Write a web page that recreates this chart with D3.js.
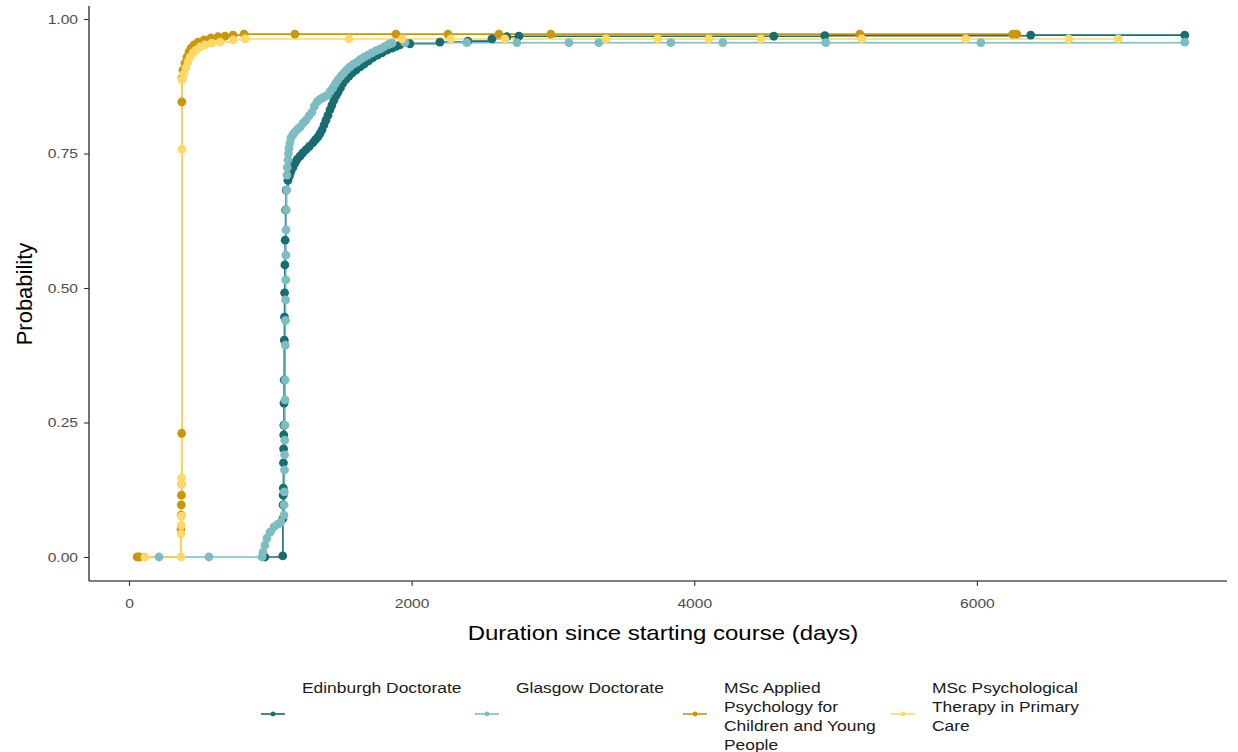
<!DOCTYPE html>
<html>
<head>
<meta charset="utf-8">
<script src="https://cdn.jsdelivr.net/npm/d3@7"></script>
<style>
  body { margin: 0; background: #fff; }
  svg { display: block; font-family: "Liberation Sans", Arial, sans-serif; }
</style>
</head>
<body>
<svg id="chart" width="1238" height="752"></svg>
<script>
// series names, in legend order
const seriesNames = ["Edinburgh Doctorate", "Glasgow Doctorate",
  "MSc Applied Psychology for Children and Young People", "MSc Psychological Therapy in Primary Care"];
const seriesColors = ["#196C6F", "#7CBCC3", "#C99709", "#FFD968"];
// legend labels as wrapped in the picture
const legendLines = [["Edinburgh Doctorate"], ["Glasgow Doctorate"],
  ["MSc Applied", "Psychology for", "Children and Young", "People"],
  ["MSc Psychological", "Therapy in Primary", "Care"]];

// Edinburgh Doctorate
const edDays = [962, 1088, 1089, 1090, 1091, 1092, 1093, 1094, 1095, 1096, 1097, 1098, 1099, 1100, 1101, 1103, 1105, 1108, 1112,
  1125, 1135, 1146, 1160, 1174, 1190, 1210, 1230, 1252, 1275, 1302, 1320, 1337, 1352, 1366, 1380, 1394, 1408, 1422, 1436,
  1450, 1465, 1479, 1496, 1514, 1535, 1557, 1580, 1606, 1635, 1663, 1695, 1726, 1758, 1790, 1825, 1861, 1890, 1917, 1988,
  2200, 2398, 2568, 2674, 2759, 4563, 4924, 6381, 7471];
const edProb = [0, 0.002, 0.071, 0.097, 0.115, 0.128, 0.175, 0.201, 0.227, 0.245, 0.286, 0.329, 0.403, 0.446, 0.491, 0.543, 0.589, 0.645, 0.682,
  0.700, 0.708, 0.716, 0.724, 0.732, 0.739, 0.745, 0.751, 0.757, 0.763, 0.770, 0.776, 0.781, 0.787, 0.794, 0.803, 0.812, 0.821, 0.831, 0.840,
  0.849, 0.857, 0.864, 0.872, 0.881, 0.888, 0.894, 0.900, 0.905, 0.911, 0.916, 0.922, 0.928, 0.933, 0.937, 0.942, 0.946, 0.949, 0.952, 0.954,
  0.957, 0.959, 0.963, 0.967, 0.968, 0.968, 0.969, 0.970, 0.970];

// Glasgow Doctorate
const glDays = [212, 566, 941, 948, 962, 976, 998, 1026, 1054, 1075, 1097, 1098, 1099, 1100, 1101, 1102, 1103, 1104, 1105, 1106,
  1107, 1108, 1109, 1110, 1111, 1113, 1116, 1118, 1120, 1125, 1128, 1132, 1139, 1146, 1160, 1174, 1192, 1210, 1230, 1252,
  1274, 1295, 1312, 1330, 1348, 1366, 1387, 1408, 1425, 1443, 1461, 1479, 1500, 1521, 1542, 1564, 1588, 1613, 1638, 1663,
  1690, 1719, 1748, 1776, 1804, 1832, 1846, 1861, 1953, 2391, 2745, 3113, 3325, 3834, 4202, 4931, 6028, 7471];
const glProb = [0, 0, 0, 0.009, 0.022, 0.035, 0.046, 0.056, 0.061, 0.065, 0.078, 0.097, 0.121, 0.162, 0.190, 0.217, 0.245, 0.292, 0.329, 0.394,
  0.440, 0.478, 0.515, 0.561, 0.608, 0.645, 0.682, 0.710, 0.724, 0.738, 0.750, 0.760, 0.770, 0.779, 0.785, 0.790, 0.795, 0.799, 0.806, 0.812,
  0.820, 0.827, 0.838, 0.846, 0.850, 0.853, 0.856, 0.859, 0.866, 0.872, 0.880, 0.887, 0.894, 0.900, 0.906, 0.911, 0.916, 0.920, 0.925, 0.929,
  0.933, 0.937, 0.941, 0.944, 0.948, 0.952, 0.954, 0.955, 0.956, 0.956, 0.956, 0.956, 0.956, 0.956, 0.956, 0.956, 0.956, 0.957];

// MSc Applied Psychology for Children and Young People
const apDays = [57, 75, 368, 369, 370, 371, 372, 373, 374, 375, 382, 396, 410, 425, 439, 460, 488, 531, 580, 630, 679, 736, 814,
  1174, 1889, 2257, 2618, 2985, 5171, 6254, 6282];
const apProb = [0, 0, 0.052, 0.078, 0.097, 0.115, 0.136, 0.230, 0.846, 0.890, 0.905, 0.918, 0.929, 0.939, 0.946, 0.952, 0.957, 0.961, 0.965, 0.967, 0.968, 0.970, 0.972,
  0.972, 0.972, 0.972, 0.972, 0.972, 0.972, 0.972, 0.972];

// MSc Psychological Therapy in Primary Care
const ptDays = [113, 368, 369, 370, 371, 372, 373, 374, 375, 389, 403, 417, 432, 453, 474, 502, 538, 587, 644, 736, 821,
  1556, 1931, 2278, 2660, 3375, 3742, 4103, 4471, 5186, 5921, 6650, 7000];
const ptProb = [0, 0, 0.043, 0.059, 0.076, 0.136, 0.147, 0.758, 0.887, 0.898, 0.909, 0.920, 0.929, 0.937, 0.942, 0.948, 0.952, 0.955, 0.957, 0.961, 0.963,
  0.963, 0.963, 0.963, 0.963, 0.963, 0.963, 0.963, 0.963, 0.963, 0.963, 0.963, 0.963];

const xTicks = [0, 2000, 4000, 6000];
const yTicks = [0, 0.25, 0.5, 0.75, 1];

const seriesDays = [edDays, glDays, apDays, ptDays];
const seriesProb = [edProb, glProb, apProb, ptProb];
const series = seriesNames.map((name, i) => ({
  name: name, color: seriesColors[i],
  values: seriesDays[i].map((d, j) => ({ day: d, p: seriesProb[i][j] }))
}));

const svg = d3.select("#chart");
const plotLeft = 89, plotRight = 1227, plotTop = 6, plotBottom = 581;
const sx = 1.2; // the picture's text is drawn a bit wide

const x = d3.scaleLinear().domain([-283, 7770]).range([plotLeft, plotRight]);
const y = d3.scaleLinear().domain([-0.0446, 1.0242]).range([plotBottom, plotTop]);

// axes
const xAxis = svg.append("g")
  .attr("transform", "translate(0," + plotBottom + ")")
  .call(d3.axisBottom(x).tickValues(xTicks).tickSize(5).tickPadding(13).tickFormat(d3.format("d")));
const yAxis = svg.append("g")
  .attr("transform", "translate(" + plotLeft + ",0)")
  .call(d3.axisLeft(y).tickValues(yTicks).tickSize(5).tickPadding(6).tickFormat(d3.format(".2f")));

[xAxis, yAxis].forEach(g => {
  g.select(".domain").attr("stroke", "#000").attr("stroke-width", 1.1);
  g.selectAll(".tick line").attr("stroke", "#333").attr("stroke-width", 1.1);
  g.selectAll(".tick text").attr("fill", "#4d4d4d").attr("font-size", 13)
    .attr("font-family", "Liberation Sans, Arial, sans-serif");
});
xAxis.select(".domain").attr("d", "M" + plotLeft + ",0H" + plotRight);
yAxis.select(".domain").attr("d", "M0," + plotTop + "V" + plotBottom);
// widen tick text around its anchor
xAxis.selectAll(".tick text").attr("transform", "scale(" + sx + ",1)");
yAxis.selectAll(".tick text").each(function () {
  const t = d3.select(this);
  const xx = +t.attr("x");
  t.attr("transform", "translate(" + xx + ",0) scale(" + sx + ",1) translate(" + (-xx) + ",0)");
});

// axis titles
svg.append("text")
  .attr("transform", "translate(663,640) scale(" + sx + ",1)")
  .attr("text-anchor", "middle").attr("font-size", 20).attr("fill", "#000")
  .text("Duration since starting course (days)");
svg.append("text")
  .attr("transform", "translate(32,294) rotate(-90)")
  .attr("text-anchor", "middle").attr("font-size", 22).attr("fill", "#000")
  .text("Probability");

// step lines, then points (ggplot layer order)
const line = d3.line().curve(d3.curveStepAfter).x(d => x(d.day)).y(d => y(d.p));
svg.append("g").selectAll("path").data(series).join("path")
  .attr("d", s => line(s.values))
  .attr("fill", "none").attr("stroke", s => s.color).attr("stroke-width", 1.6);

svg.append("g").selectAll("g").data(series).join("g")
  .attr("fill", s => s.color)
  .selectAll("circle").data(s => s.values).join("circle")
  .attr("cx", d => x(d.day)).attr("cy", d => y(d.p)).attr("r", 4.4);

// legend
const keyX = [261, 475, 683, 891];
const keyY = 714;
const legend = svg.append("g").selectAll("g").data(series).join("g")
  .attr("transform", (s, i) => "translate(" + keyX[i] + "," + keyY + ")");
legend.append("line").attr("x1", 0).attr("x2", 24).attr("y1", 0).attr("y2", 0)
  .attr("stroke", s => s.color).attr("stroke-width", 1.6);
legend.append("circle").attr("cx", 12).attr("cy", 0).attr("r", 2.4).attr("fill", s => s.color);
legend.each(function (s, i) {
  const g = d3.select(this);
  legendLines[i].forEach((ln, k) => {
    g.append("text")
      .attr("transform", "translate(41," + (-21 + k * 19) + ") scale(" + sx + ",1)")
      .attr("font-size", 14.5).attr("fill", "#1a1a1a")
      .text(ln);
  });
});
</script>
</body>
</html>
